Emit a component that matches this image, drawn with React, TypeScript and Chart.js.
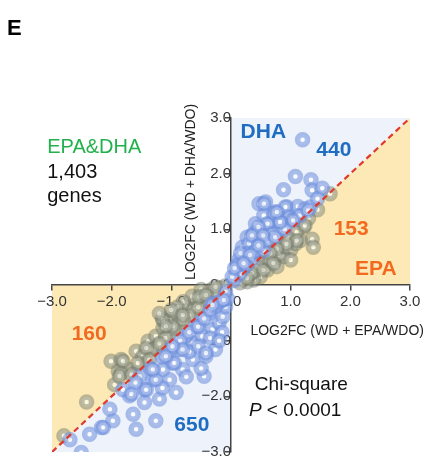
import React, { useEffect, useRef } from 'react';
import { Chart, registerables } from 'chart.js';

Chart.register(...registerables);

// ---- tick labels ----
const xTickValues = [-3, -2, -1, 0, 1, 2, 3];
const xTickLabels = ['\u22123.0', '\u22122.0', '\u22121.0', '0.0', '1.0', '2.0', '3.0'];
const yTickValues = [-3, -2, -1, 0, 1, 2, 3];
const yTickLabels = ['\u22123.0', '\u22122.0', '\u22121.0', '0.0', '1.0', '2.0', '3.0'];

// ---- series: [LOG2FC EPA, LOG2FC DHA] ----
// DHA-dominant genes, up-regulated (quadrant I, above diagonal)
const dhaUp: [number, number][] = [
  [1.2, 2.61], [1.08, 1.95], [1.34, 1.89], [0.88, 1.71], [1.36, 1.7], [1.53, 1.74],
  [0.47, 1.46], [0.58, 1.49], [0.94, 1.4], [1.12, 1.41], [0.74, 1.31], [0.55, 1.25],
  [1.24, 1.37], [0.41, 1.1], [0.66, 1.1], [0.86, 1.16], [0.27, 0.86], [0.38, 0.92],
  [0.49, 0.77], [0.66, 0.92], [0.8, 0.98], [0.19, 0.68], [0.3, 0.57], [0.13, 0.45],
  [0.11, 0.27], [0.07, 0.15], [0.55, 1.46], [0.91, 1.4], [1.33, 1.4], [0.72, 1.28],
  [0.97, 1.22], [0.61, 1.1], [0.83, 1.13], [0.44, 0.92], [0.69, 0.92], [0.3, 0.74],
  [0.49, 0.68], [0.22, 0.45], [0.27, 0.57], [1.05, 1.18], [1.15, 1.25], [0.35, 0.45],
  [0.4, 0.6], [0.55, 0.62], [0.6, 0.8], [0.2, 0.3], [0.15, 0.2], [0.05, 0.08],
  [0.1, 0.35], [0.25, 0.35], [0.9, 1.0], [1.45, 1.55], [0.02, 0.15], [0.06, 0.3],
  [1.04, 1.16], [0.82, 1.13], [0.46, 1.04], [0.35, 0.89], [0.54, 0.89], [0.74, 0.86],
  [0.46, 0.71], [0.16, 0.57], [0.32, 0.54], [0.21, 0.39], [1.29, 1.34], [0.77, 1.31],
];
// EPA-dominant genes, up-regulated (quadrant I, below diagonal)
const epaUp: [number, number][] = [
  [1.66, 1.64], [1.36, 0.82], [1.38, 0.68], [1.22, 1.04], [1.16, 0.8], [1.0, 0.63],
  [0.88, 0.51], [0.72, 0.39], [0.61, 0.27], [0.49, 0.15], [0.38, 0.09], [0.27, 0.06],
  [0.77, 0.33], [1.0, 0.45], [0.55, 0.45], [0.44, 0.33], [1.08, 0.74], [1.3, 1.2],
  [1.1, 0.95], [0.95, 0.85], [0.85, 0.7], [0.7, 0.6], [0.6, 0.5], [0.5, 0.38],
  [0.4, 0.25], [0.3, 0.18], [0.2, 0.1], [0.15, 0.04], [0.65, 0.45], [0.8, 0.55],
  [0.92, 0.68], [1.45, 1.35], [1.24, 1.07], [1.1, 0.8], [0.93, 0.74], [0.77, 0.65],
  [0.66, 0.57], [0.43, 0.33], [0.35, 0.21], [0.27, 0.12], [0.71, 0.39], [0.54, 0.27],
];
// EPA-dominant genes, down-regulated (quadrant III, above diagonal)
const epaDown: [number, number][] = [
  [-2.42, -2.1], [-2.8, -2.71], [-2.01, -1.37], [-1.84, -1.34], [-1.59, -1.19],
  [-1.89, -1.55], [-1.7, -1.52], [-1.39, -1.01], [-1.26, -0.92], [-1.48, -1.28],
  [-1.14, -0.77], [-1.03, -0.63], [-0.92, -0.51], [-0.76, -0.39], [-0.59, -0.27],
  [-0.48, -0.18], [-0.34, -0.09], [-0.64, -0.45], [-0.87, -0.68], [-1.03, -0.86],
  [-1.26, -1.13], [-1.84, -1.58], [-1.62, -1.58], [-1.95, -1.79], [-1.42, -1.4],
  [-1.34, -1.16], [-0.2, -0.05], [-0.1, -0.02], [-0.25, -0.15], [-0.4, -0.3],
  [-0.55, -0.4], [-0.7, -0.55], [-0.8, -0.62], [-0.95, -0.78], [-1.1, -0.95],
  [-1.2, -1.05], [-0.65, -0.2], [-0.8, -0.3], [-0.5, -0.08], [-0.9, -0.4],
  [-1.15, -0.6], [-1.0, -0.45], [-0.98, -0.74], [-1.14, -0.63], [-0.53, -0.21],
  [-0.26, -0.03], [-1.81, -1.37], [-1.42, -1.13], [-1.09, -0.74], [-0.81, -0.54],
  [-0.42, -0.18], [-1.87, -1.64], [-1.67, -1.61], [-1.56, -1.4], [-1.37, -1.34],
  [-1.2, -0.51],
];
// DHA-dominant genes, down-regulated (quadrant III, below diagonal)
const dhaDown: [number, number][] = [
  [-2.51, -3.01], [-2.37, -2.68], [-2.17, -2.56], [-1.98, -2.44], [-2.03, -2.23],
  [-1.64, -2.32], [-1.59, -2.59], [-1.26, -2.44], [-1.45, -2.11], [-1.2, -2.05],
  [-0.92, -1.93], [-0.45, -1.64], [-1.7, -1.99], [-1.45, -1.88], [-1.31, -1.7],
  [-1.03, -1.7], [-0.81, -1.52], [-0.64, -1.34], [-1.14, -1.52], [-0.98, -1.4],
  [-0.87, -1.16], [-0.64, -1.04], [-0.48, -0.92], [-0.31, -0.8], [-0.2, -0.68],
  [-0.14, -0.57], [-0.09, -0.39], [-0.06, -0.24], [-0.37, -0.51], [-0.53, -0.68],
  [-0.31, -0.33], [-0.26, -1.16], [-0.42, -1.28], [-0.76, -0.92], [-1.53, -1.64],
  [-1.81, -1.88], [-0.59, -0.74], [-0.26, -0.39], [-0.14, -0.27], [-0.09, -0.12],
  [-1.6, -1.75], [-1.35, -1.5], [-1.15, -1.3], [-1.0, -1.15], [-0.85, -1.0],
  [-0.7, -0.85], [-0.55, -0.75], [-0.45, -0.6], [-0.35, -0.45], [-0.2, -0.3],
  [-0.7, -1.2], [-0.55, -1.1], [-0.35, -0.95], [-0.15, -0.85], [-0.2, -1.0],
  [-0.5, -1.5], [-0.75, -1.65], [-1.15, -1.85], [-2.7, -2.78], [-2.14, -2.56],
  [-1.67, -1.96], [-1.42, -1.88], [-1.26, -1.7], [-0.95, -1.4], [-0.81, -1.16],
  [-0.12, -0.27], [-0.31, -0.36], [-0.42, -1.22], [-1.31, -1.52], [-1.09, -1.28],
  [-0.98, -1.1],
];
// identity line y = x
const diagonal: [number, number][] = [[-3, -3], [3, 3]];

// shaded triangles (data coordinates)
const blueRegions: [number, number][][] = [
  [[0, 0], [0, 3], [3, 3]],
  [[-3, -3], [0, 0], [0, -3]],
];
const yellowRegions: [number, number][][] = [
  [[0, 0], [3, 0], [3, 3]],
  [[-3, 0], [0, 0], [-3, -3]],
];

const FONT = "'Liberation Sans', Arial, Helvetica, sans-serif";
const BLUE_TXT = '#1f6dc2';
const ORANGE_TXT = '#f26a1f';
const GREEN_TXT = '#22b14c';

type Note = { text: string; x: number; y: number; size: number; bold?: boolean; color: string; italicP?: boolean };
const notes: Note[] = [
  { text: 'EPA&DHA', x: -3.08, y: 2.375, size: 20, color: GREEN_TXT },
  { text: '1,403', x: -3.08, y: 1.93, size: 20, color: '#111' },
  { text: 'genes', x: -3.08, y: 1.5, size: 20, color: '#111' },
  { text: 'DHA', x: 0.16, y: 2.64, size: 21, bold: true, color: BLUE_TXT },
  { text: '440', x: 1.43, y: 2.32, size: 21, bold: true, color: BLUE_TXT },
  { text: '153', x: 1.72, y: 0.89, size: 21, bold: true, color: ORANGE_TXT },
  { text: 'EPA', x: 2.08, y: 0.18, size: 21, bold: true, color: ORANGE_TXT },
  { text: '160', x: -2.67, y: -0.98, size: 21, bold: true, color: ORANGE_TXT },
  { text: '650', x: -0.95, y: -2.63, size: 21, bold: true, color: BLUE_TXT },
  { text: 'Chi-square', x: 0.4, y: -1.89, size: 19, color: '#111' },
  { text: ' < 0.0001', x: 0.3, y: -2.36, size: 19, color: '#111', italicP: true },
];

const toPts = (arr: [number, number][]) => arr.map(([x, y]) => ({ x, y }));

const decorPlugin = {
  id: 'decor',
  beforeDraw(chart: any) {
    const { ctx } = chart;
    const xs = chart.scales.x;
    const ys = chart.scales.y;
    const tri = (pts: [number, number][], color: string) => {
      ctx.beginPath();
      pts.forEach(([a, b], i) => {
        const px = xs.getPixelForValue(a);
        const py = ys.getPixelForValue(b);
        if (i) ctx.lineTo(px, py);
        else ctx.moveTo(px, py);
      });
      ctx.closePath();
      ctx.fillStyle = color;
      ctx.fill();
    };
    ctx.save();
    ctx.fillStyle = '#fff';
    ctx.fillRect(0, 0, chart.width, chart.height);
    blueRegions.forEach((r) => tri(r, '#eef2fa'));
    yellowRegions.forEach((r) => tri(r, '#fde9b6'));
    ctx.restore();
  },
  afterDatasetsDraw(chart: any) {
    const { ctx } = chart;
    const xs = chart.scales.x;
    const ys = chart.scales.y;
    ctx.save();
    ctx.textBaseline = 'alphabetic';
    ctx.textAlign = 'left';
    notes.forEach((n) => {
      let px = xs.getPixelForValue(n.x);
      const py = ys.getPixelForValue(n.y);
      ctx.fillStyle = n.color;
      if (n.italicP) {
        ctx.font = `italic ${n.size}px ${FONT}`;
        ctx.fillText('P', px, py);
        px += ctx.measureText('P').width;
      }
      ctx.font = `${n.bold ? 'bold ' : ''}${n.size}px ${FONT}`;
      ctx.fillText(n.text, px, py);
    });
    // axis titles
    ctx.fillStyle = '#222';
    ctx.font = `14px ${FONT}`;
    ctx.textAlign = 'center';
    ctx.textBaseline = 'middle';
    ctx.fillText('LOG2FC (WD + EPA/WDO)', xs.getPixelForValue(1.78), ys.getPixelForValue(-0.82));
    ctx.save();
    ctx.translate(xs.getPixelForValue(-0.67), ys.getPixelForValue(1.67));
    ctx.rotate(-Math.PI / 2);
    ctx.fillText('LOG2FC (WD + DHA/WDO)', 0, 0);
    ctx.restore();
    // panel letter
    ctx.fillStyle = '#000';
    ctx.font = `bold 22px ${FONT}`;
    ctx.textAlign = 'left';
    ctx.textBaseline = 'alphabetic';
    ctx.fillText('E', 7, 35);
    ctx.restore();
  },
};

export default function App() {
  const ref = useRef<HTMLCanvasElement | null>(null);
  useEffect(() => {
    if (!ref.current) return;
    const ringBlue = {
      pointRadius: 5,
      pointBorderWidth: 5.5,
      borderColor: 'rgba(112,145,220,0.58)',
      backgroundColor: 'rgba(255,255,255,0.75)',
      pointHoverRadius: 5,
    };
    const ringGray = {
      pointRadius: 5,
      pointBorderWidth: 5.5,
      borderColor: 'rgba(122,128,112,0.5)',
      backgroundColor: 'rgba(255,255,240,0.6)',
      pointHoverRadius: 5,
    };
    const chart = new Chart(ref.current, {
      type: 'scatter',
      data: {
        datasets: [
          {
            type: 'line',
            data: toPts(diagonal),
            borderColor: '#e03a2c',
            borderWidth: 2.2,
            borderDash: [6, 4],
            pointRadius: 0,
            fill: false,
          } as any,
          { data: toPts(dhaUp), ...ringBlue },
          { data: toPts(dhaDown), ...ringBlue },
          { data: toPts(epaUp), ...ringGray },
          { data: toPts(epaDown), ...ringGray },
        ],
      },
      options: {
        animation: false,
        responsive: true,
        maintainAspectRatio: false,
        events: [],
        layout: { padding: { left: 52, top: 118, right: 35, bottom: 12 } },
        plugins: { legend: { display: false }, tooltip: { enabled: false }, title: { display: false } },
        scales: {
          x: {
            type: 'linear',
            min: -3,
            max: 3,
            position: { y: 0 } as any,
            afterBuildTicks: (s: any) => {
              s.ticks = xTickValues.map((v) => ({ value: v }));
            },
            ticks: {
              autoSkip: false,
              maxRotation: 0,
              padding: 3,
              color: '#333',
              font: { family: FONT, size: 15 },
              callback: (v: any) => xTickLabels[xTickValues.indexOf(Number(v))] ?? '',
            },
            grid: { display: true, drawOnChartArea: false, drawTicks: true, tickLength: 5, color: '#444', lineWidth: 1.5 },
            border: { display: true, color: '#444', width: 1.5 },
          },
          y: {
            type: 'linear',
            min: -3,
            max: 3,
            position: { x: 0 } as any,
            afterBuildTicks: (s: any) => {
              s.ticks = yTickValues.map((v) => ({ value: v }));
            },
            ticks: {
              autoSkip: false,
              padding: 4,
              color: '#333',
              font: { family: FONT, size: 15 },
              callback: (v: any) => yTickLabels[yTickValues.indexOf(Number(v))] ?? '',
            },
            grid: { display: true, drawOnChartArea: false, drawTicks: true, tickLength: 5, color: '#444', lineWidth: 1.5 },
            border: { display: true, color: '#444', width: 1.5 },
          },
        },
      },
      plugins: [decorPlugin],
    });
    return () => chart.destroy();
  }, []);
  return (
    <div style={{ position: 'fixed', left: 0, top: 0, width: 445, height: 465, background: '#fff' }}>
      <canvas ref={ref} />
    </div>
  );
}
